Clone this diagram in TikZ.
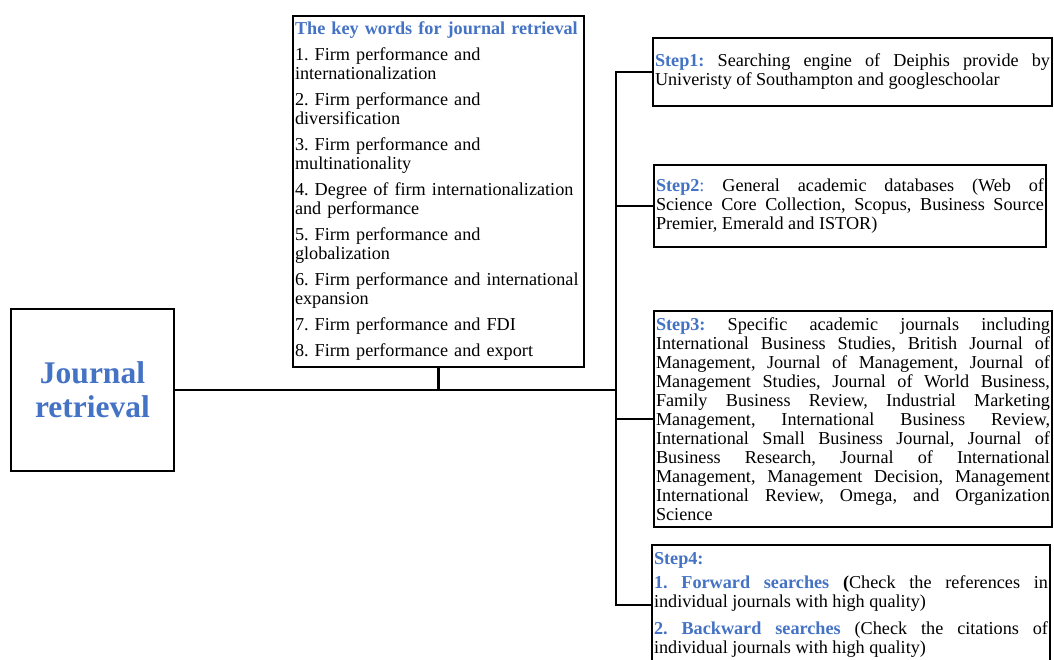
\documentclass[tikz,border=0pt]{standalone}
\usepackage{fontspec}
\setmainfont{Liberation Serif}
\usepackage{xcolor}
\usetikzlibrary{positioning, calc}

\definecolor{wordblue}{HTML}{4472C4}
\newcommand{\bl}[1]{\textcolor{wordblue}{\textbf{#1}}}
\tolerance=9999
\hbadness=10000
\hyphenpenalty=10000
\frenchspacing

\begin{document}
\begin{tikzpicture}[x=1pt, y=-1pt,
    box/.style={draw, line width=2.8pt, inner xsep=2pt, inner ysep=0pt},
    stepbox/.style={box, align=justify, font=\fontsize{18.2}{19}\selectfont},
    link/.style={line width=2.4pt}]
    \useasboundingbox (0,0) rectangle (1054,659);
    \coordinate (J) at (92.5,390);
    \coordinate (K) at (438.5,191.5);
    \coordinate (S1) at (852.5,72);
    \coordinate (S2) at (850,206);
    \coordinate (S3) at (853,419);
    \coordinate (S4) at (851,605);
    \coordinate (hub) at (616,390);
    % main box
    \node[box, minimum width=163pt, minimum height=162pt, align=center,
          font=\fontsize{31.5}{34}\selectfont\bfseries, text=wordblue] (jr) at (J) {Journal\\retrieval};
    % key words
    \node[box, text width=287pt, align=left, minimum height=351pt,
          font=\fontsize{18.2}{19}\selectfont] (kw) at (K) {%
        \bl{The key words for journal retrieval}\\[7pt]
        1. Firm performance and\\ internationalization\\[7pt]
        2. Firm performance and\\ diversification\\[7pt]
        3. Firm performance and\\ multinationality\\[7pt]
        4. Degree of firm internationalization\\ and performance\\[7pt]
        5. Firm performance and\\ globalization\\[7pt]
        6. Firm performance and international\\ expansion\\[7pt]
        7. Firm performance and FDI\\[7pt]
        8. Firm performance and export};
    % steps
    \node[stepbox, text width=395pt, minimum height=68pt] (s1) at (S1) {%
        \bl{Step1:} Searching engine of Deiphis provide by\linebreak
        Univeristy of Southampton and googleschoolar};
    \node[stepbox, text width=388pt, minimum height=82pt] (s2) at (S2) {%
        \bl{Step2}\textcolor{wordblue}{:} General academic databases (Web of\linebreak
        Science Core Collection, Scopus, Business Source\linebreak
        Premier, Emerald and ISTOR)};
    \node[stepbox, text width=394pt, minimum height=216pt] (s3) at (S3) {%
        \bl{Step3:} Specific academic journals including\linebreak
        International Business Studies, British Journal of\linebreak
        Management, Journal of Management, Journal of\linebreak
        Management Studies, Journal of World Business,\linebreak
        Family Business Review, Industrial Marketing\linebreak
        Management, International Business Review,\linebreak
        International Small Business Journal, Journal of\linebreak
        Business Research, Journal of International\linebreak
        Management, Management Decision, Management\linebreak
        International Review, Omega, and Organization\linebreak
        Science};
    \node[stepbox, text width=394pt, minimum height=120pt] (s4) at (S4) {%
        \bl{Step4:}\par\vspace{5pt}
        \bl{1. Forward searches} \textbf{(}Check the references in\linebreak
        individual journals with high quality)\par\vspace{8pt}
        \bl{2. Backward searches} (Check the citations of\linebreak
        individual journals with high quality)};
    % connectors
    \draw[link] (jr.east) -- (hub);
    \draw[link] (kw.south) -- (kw.south |- hub);
    \draw[link] (s1.west) -- (s1.west -| hub) -- (s4.west -| hub) -- (s4.west);
    \draw[link] (s2.west) -- (s2.west -| hub);
    \draw[link] (s3.west) -- (s3.west -| hub);
\end{tikzpicture}
\end{document}
